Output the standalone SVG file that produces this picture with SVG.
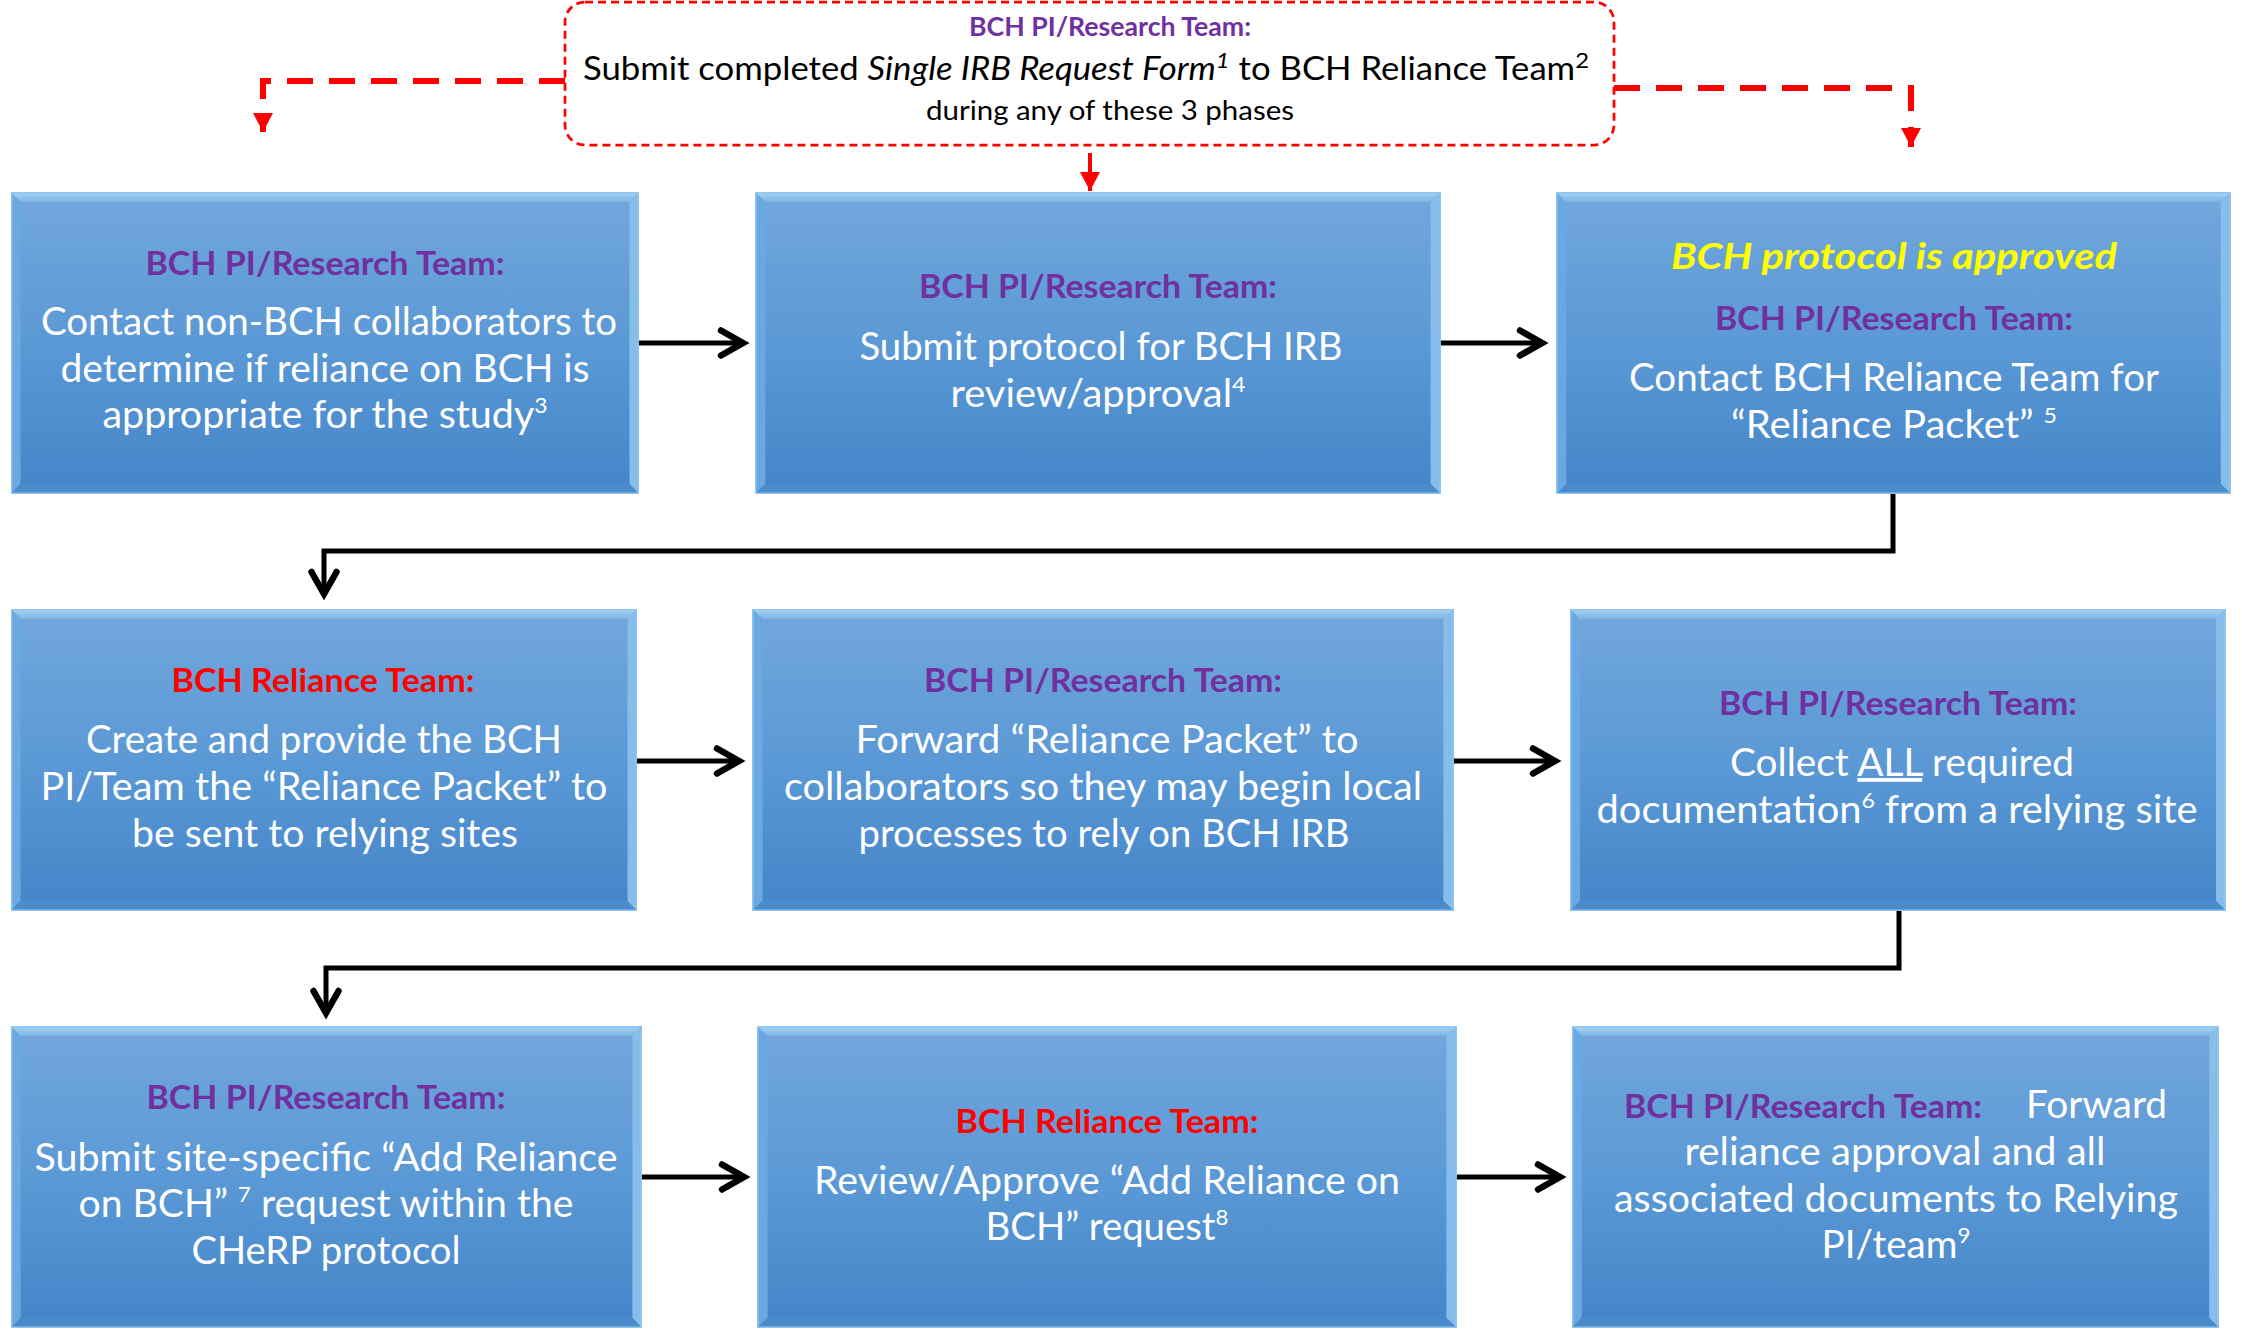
<svg xmlns="http://www.w3.org/2000/svg" xmlns:xlink="http://www.w3.org/1999/xlink" width="2242" height="1333" viewBox="0 0 2242 1333">
<defs>
<style>
text { font-family: Lato, "Liberation Sans", sans-serif; }
.hd { font-weight: 700; font-size: 33px; text-anchor: middle; }
.pu { fill: #7030A0; }
.rd { fill: #FF0000; }
.yl { fill: #FFFF00; font-weight: 700; font-style: italic; font-size: 37px; text-anchor: middle; }
.bd { font-size: 38px; fill: #FFFFFF; text-anchor: middle; }
.sup { font-size: 22px; }
.tb { font-size: 32px; fill: #000; text-anchor: middle; }
.tb2 { font-size: 26px; fill: #000; text-anchor: middle; }
.conn { fill: none; stroke: #000; stroke-width: 5; marker-end: url(#ah); }
.rdash { fill: none; stroke: #FF0000; stroke-width: 6; stroke-dasharray: 26 16; marker-end: url(#rh); }
.rsolid { fill: none; stroke: #FF0000; stroke-width: 4; marker-end: url(#rh); }
</style>
<linearGradient id="boxGrad" x1="0" y1="0" x2="0" y2="1">
<stop offset="0" stop-color="#72a7dc"/>
<stop offset="0.5" stop-color="#5b99d6"/>
<stop offset="1" stop-color="#4485c8"/>
</linearGradient>
<linearGradient id="topBev" x1="0" y1="0" x2="0" y2="1">
<stop offset="0" stop-color="#a9d6f6"/>
<stop offset="1" stop-color="#7fb2e2"/>
</linearGradient>
<symbol id="box" viewBox="0 0 660 302" preserveAspectRatio="none">
<rect x="0" y="0" width="660" height="302" fill="url(#boxGrad)"/>
<polygon points="0,0 660,0 650,10 10,10" fill="url(#topBev)"/>
<polygon points="0,0 10,10 10,292 0,302" fill="#6aa8e2"/>
<polygon points="660,0 660,302 650,292 650,10" fill="#86bdeb"/>
<polygon points="0,302 10,292 650,292 660,302" fill="#4a8bcc"/>
<rect x="0.75" y="0.75" width="658.5" height="300.5" fill="none" stroke="#8fc4ee" stroke-width="1.5"/>
</symbol>
<marker id="ah" markerUnits="userSpaceOnUse" viewBox="-30 -20 40 40" markerWidth="40" markerHeight="40" refX="0" refY="0" orient="auto" overflow="visible">
<path d="M-22,-12.5 L0,0 L-22,12.5" fill="none" stroke="#000" stroke-width="6.5" stroke-linecap="round"/>
</marker>
<marker id="rh" markerUnits="userSpaceOnUse" viewBox="-25 -15 30 30" markerWidth="30" markerHeight="30" refX="0" refY="0" orient="auto" overflow="visible">
<path d="M-19,-10 L0,0 L-19,10 Z" fill="#FF0000"/>
</marker>
</defs>
<rect x="0" y="0" width="2242" height="1333" fill="#FFFFFF"/>

<g id="connectors">
<path class="rdash" d="M565,81 H263 V132"/>
<path class="rdash" d="M1614,88 H1911 V147"/>
<path class="rsolid" d="M1090,153 V191"/>
<path class="conn" d="M639,343 H743"/>
<path class="conn" d="M1441,343 H1542"/>
<path class="conn" d="M1893,494 V551 H324 V594"/>
<path class="conn" d="M637,761 H739"/>
<path class="conn" d="M1454,761 H1555"/>
<path class="conn" d="M1899,911 V968 H326 V1013"/>
<path class="conn" d="M642,1177 H744"/>
<path class="conn" d="M1457,1177 H1560"/>
</g>

<g id="node-submit-form">
<rect x="565" y="2" width="1049" height="143" rx="20" ry="20" fill="#FFFFFF" stroke="#FF0000" stroke-width="2.75" stroke-dasharray="8 5"/>
<text class="hd pu" x="1110" y="36" style="font-size:26px" textLength="282" lengthAdjust="spacingAndGlyphs">BCH PI/Research Team:</text>
<text class="tb" x="1086" y="80" textLength="1006" lengthAdjust="spacingAndGlyphs">Submit completed <tspan font-style="italic">Single IRB Request Form</tspan><tspan font-style="italic" class="sup" dy="-12">1</tspan><tspan dy="12"> to BCH Reliance Team</tspan><tspan class="sup" dy="-12">2</tspan></text>
<text class="tb2" x="1110" y="120" textLength="368" lengthAdjust="spacingAndGlyphs">during any of these 3 phases</text>
</g>

<g id="node-contact-collaborators">
<use xlink:href="#box" x="11" y="192" width="628" height="302"/>
<text class="hd pu" x="325" y="275" textLength="359" lengthAdjust="spacingAndGlyphs">BCH PI/Research Team:</text>
<text class="bd" x="329" y="335" textLength="576" lengthAdjust="spacingAndGlyphs">Contact non-BCH collaborators to</text>
<text class="bd" x="325" y="382" textLength="529" lengthAdjust="spacingAndGlyphs">determine if reliance on BCH is</text>
<text class="bd" x="325" y="428" textLength="445" lengthAdjust="spacingAndGlyphs">appropriate for the study<tspan class="sup" dy="-15">3</tspan></text>
</g>

<g id="node-submit-protocol">
<use xlink:href="#box" x="755" y="192" width="686" height="302"/>
<text class="hd pu" x="1098" y="298" textLength="358" lengthAdjust="spacingAndGlyphs">BCH PI/Research Team:</text>
<text class="bd" x="1101" y="360" textLength="483" lengthAdjust="spacingAndGlyphs">Submit protocol for BCH IRB</text>
<text class="bd" x="1098" y="407" textLength="295" lengthAdjust="spacingAndGlyphs">review/approval<tspan class="sup" dy="-15">4</tspan></text>
</g>

<g id="node-protocol-approved">
<use xlink:href="#box" x="1556" y="192" width="675" height="302"/>
<text class="yl" x="1894" y="269" textLength="446" lengthAdjust="spacingAndGlyphs">BCH protocol is approved</text>
<text class="hd pu" x="1894" y="330" textLength="358" lengthAdjust="spacingAndGlyphs">BCH PI/Research Team:</text>
<text class="bd" x="1894" y="391" textLength="530" lengthAdjust="spacingAndGlyphs">Contact BCH Reliance Team for</text>
<text class="bd" x="1894" y="438" textLength="326" lengthAdjust="spacingAndGlyphs">“Reliance Packet” <tspan class="sup" dy="-15">5</tspan></text>
</g>

<g id="node-create-packet">
<use xlink:href="#box" x="11" y="609" width="626" height="302"/>
<text class="hd rd" x="323" y="692" textLength="303" lengthAdjust="spacingAndGlyphs">BCH Reliance Team:</text>
<text class="bd" x="324" y="753" textLength="476" lengthAdjust="spacingAndGlyphs">Create and provide the BCH</text>
<text class="bd" x="324" y="800" textLength="567" lengthAdjust="spacingAndGlyphs">PI/Team the “Reliance Packet” to</text>
<text class="bd" x="325" y="847" textLength="386" lengthAdjust="spacingAndGlyphs">be sent to relying sites</text>
</g>

<g id="node-forward-packet">
<use xlink:href="#box" x="752" y="609" width="702" height="302"/>
<text class="hd pu" x="1103" y="692" textLength="358" lengthAdjust="spacingAndGlyphs">BCH PI/Research Team:</text>
<text class="bd" x="1107" y="753" textLength="503" lengthAdjust="spacingAndGlyphs">Forward “Reliance Packet” to</text>
<text class="bd" x="1103" y="800" textLength="638" lengthAdjust="spacingAndGlyphs">collaborators so they may begin local</text>
<text class="bd" x="1104" y="847" textLength="491" lengthAdjust="spacingAndGlyphs">processes to rely on BCH IRB</text>
</g>

<g id="node-collect-docs">
<use xlink:href="#box" x="1570" y="609" width="656" height="302"/>
<text class="hd pu" x="1898" y="715" textLength="358" lengthAdjust="spacingAndGlyphs">BCH PI/Research Team:</text>
<text class="bd" x="1902" y="776" textLength="344" lengthAdjust="spacingAndGlyphs">Collect <tspan text-decoration="underline">ALL</tspan> required</text>
<text class="bd" x="1897" y="823" textLength="601" lengthAdjust="spacingAndGlyphs">documentation<tspan class="sup" dy="-15">6</tspan><tspan dy="15"> from a relying site</tspan></text>
</g>

<g id="node-add-reliance">
<use xlink:href="#box" x="11" y="1026" width="631" height="302"/>
<text class="hd pu" x="326" y="1109" textLength="359" lengthAdjust="spacingAndGlyphs">BCH PI/Research Team:</text>
<text class="bd" x="326" y="1171" textLength="583" lengthAdjust="spacingAndGlyphs">Submit site-specific “Add Reliance</text>
<text class="bd" x="326" y="1217" textLength="495" lengthAdjust="spacingAndGlyphs">on BCH” <tspan class="sup" dy="-15">7</tspan><tspan dy="15"> request within the</tspan></text>
<text class="bd" x="326" y="1264" textLength="269" lengthAdjust="spacingAndGlyphs">CHeRP protocol</text>
</g>

<g id="node-review-approve">
<use xlink:href="#box" x="757" y="1026" width="700" height="302"/>
<text class="hd rd" x="1107" y="1133" textLength="303" lengthAdjust="spacingAndGlyphs">BCH Reliance Team:</text>
<text class="bd" x="1107" y="1194" textLength="586" lengthAdjust="spacingAndGlyphs">Review/Approve “Add Reliance on</text>
<text class="bd" x="1107" y="1240" textLength="243" lengthAdjust="spacingAndGlyphs">BCH” request<tspan class="sup" dy="-15">8</tspan></text>
</g>

<g id="node-forward-approval">
<use xlink:href="#box" x="1572" y="1026" width="647" height="302"/>
<text class="hd pu" x="1624" y="1118" style="text-anchor:start" textLength="358" lengthAdjust="spacingAndGlyphs">BCH PI/Research Team:</text>
<text class="bd" x="2026" y="1118" style="text-anchor:start" textLength="141" lengthAdjust="spacingAndGlyphs">Forward</text>
<text class="bd" x="1895" y="1165" textLength="421" lengthAdjust="spacingAndGlyphs">reliance approval and all</text>
<text class="bd" x="1896" y="1212" textLength="564" lengthAdjust="spacingAndGlyphs">associated documents to Relying</text>
<text class="bd" x="1896" y="1258" textLength="149" lengthAdjust="spacingAndGlyphs">PI/team<tspan class="sup" dy="-15">9</tspan></text>
</g>
</svg>
